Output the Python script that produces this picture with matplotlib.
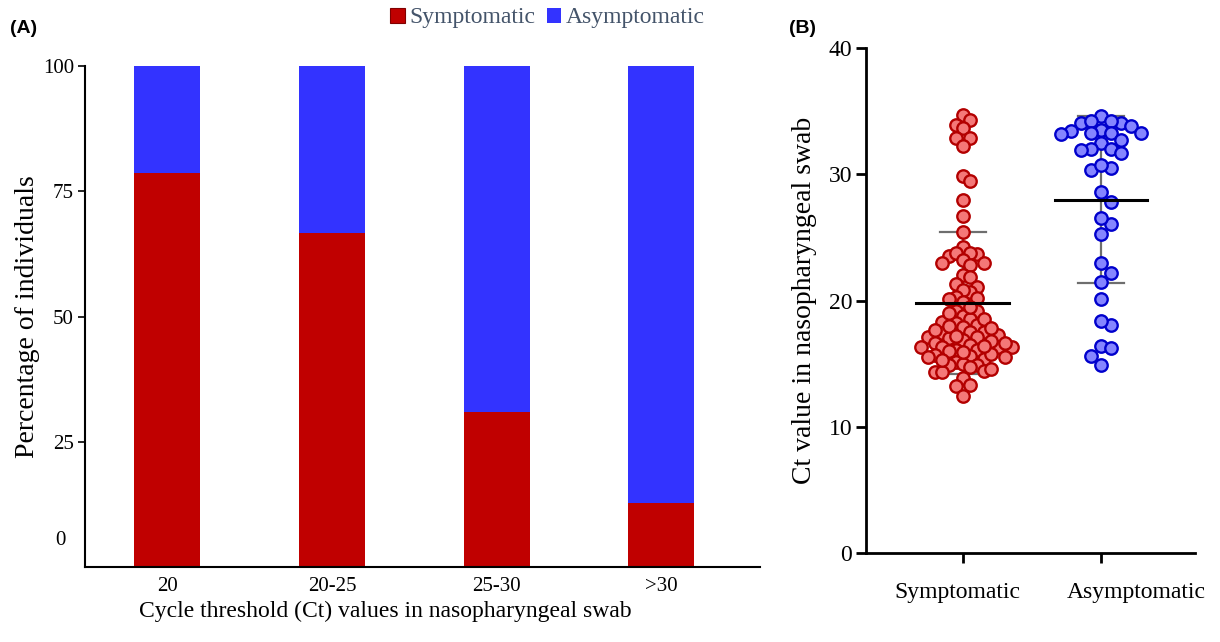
import matplotlib.pyplot as plt
import numpy as np
from matplotlib.patches import Rectangle
from matplotlib.transforms import ScaledTranslation

plt.rcParams['font.family'] = ['Liberation Serif', 'DejaVu Serif']

# --- panel A data ---
CT_BINS = ['20', '20-25', '25-30', '>30']
SYMPT_PCT = [78.6, 66.7, 30.9, 12.8]
ASYMPT_PCT = [100 - v for v in SYMPT_PCT]

# --- panel B data (Ct values) ---
GROUPS = ['Symptomatic', 'Asymptomatic']
SYMPT_CT = [
    34.7, 34.3, 33.9, 33.7, 32.9, 32.9, 32.2,
    29.9, 29.5, 28.0, 26.7, 25.4,
    24.2, 23.5, 23.7, 23.8, 23.8, 23.0, 23.2, 22.8, 23.0, 22.0, 21.9,
    21.3, 21.1, 20.7, 20.8, 20.3, 20.1, 19.9, 20.2, 19.2, 19.2, 18.8,
    18.5, 18.2, 18.1, 17.9, 18.5, 18.3,
    17.5, 17.4, 17.0, 16.9, 17.1, 17.5, 17.3, 17.1, 16.6, 16.3, 16.3,
    16.3, 16.1, 16.5, 16.3, 16.6, 16.1, 15.5, 15.6, 15.7, 15.5, 15.4,
    15.1, 14.9, 14.9, 14.3, 14.3, 14.4, 13.9, 13.3, 13.2, 12.4,
    18.0, 17.8, 17.2, 16.8, 16.0, 15.8, 15.3, 15.0, 14.7, 19.5, 19.0,
    17.7, 16.4, 15.9, 14.6,
]
ASYMPT_CT = [
    34.6, 34.1, 34.1, 34.2, 34.2, 33.8, 33.4, 33.5, 33.3, 33.3, 33.2, 33.3,
    32.7, 32.5, 32.0, 32.0, 31.7, 31.9, 30.3, 30.5, 30.7,
    28.6, 27.8, 26.1, 26.5, 25.3, 23.0, 22.2, 21.5, 20.1,
    18.1, 18.4, 16.4, 16.2, 15.6, 14.9,
]
GROUP_MEAN = [19.8, 28.0]
GROUP_SD = [5.6, 6.6]

RED = '#C00000'
BLUE = '#3333FF'


def swarm_columns(values, gap):
    """Prism-like column layout: a dot goes to the nearest free column."""
    cols = {}
    offs = np.zeros(len(values))
    order = np.argsort(values)[::-1]
    cand = [0]
    for k in range(1, 30):
        cand += [k, -k]
    for i in order:
        v = values[i]
        for k in cand:
            if all(abs(v - y) >= gap for y in cols.get(k, [])):
                cols.setdefault(k, []).append(v)
                offs[i] = k
                break
    return offs


fig = plt.figure(figsize=(12.2, 6.42), dpi=100)

# -- Panel A: stacked bars --
ax = fig.add_axes([0.0697, 0.1168, 0.5533, 0.7802])
x = np.arange(len(CT_BINS))
ax.bar(x, SYMPT_PCT, width=0.4, color=RED, label='Symptomatic')
ax.bar(x, ASYMPT_PCT, width=0.4, bottom=SYMPT_PCT, color=BLUE, label='Asymptomatic')
ax.set_xlim(-0.5, 3.6)
ax.set_ylim(0, 100)
ax.set_yticks([25, 50, 75, 100])
ax.set_yticklabels(['25', '50', '75', '100'], fontsize=15)
ax.text(-0.62, 5.2, '0', fontsize=15, ha='right', va='center')
ax.set_xticks(x)
ax.set_xticklabels(CT_BINS, fontsize=15)
ax.tick_params(axis='x', length=0, pad=7)
ax.tick_params(axis='y', length=5, width=1.2, pad=3)
for s in ['top', 'right']:
    ax.spines[s].set_visible(False)
ax.spines['left'].set_linewidth(1.5)
ax.spines['bottom'].set_linewidth(1.5)
ax.set_ylabel('Percentage of individuals', fontsize=20, labelpad=2)
ax.set_xlabel('Cycle threshold (Ct) values in nasopharyngeal swab', fontsize=17)
ax.xaxis.set_label_coords(0.445, -0.068)

handles = [Rectangle((0, 0), 1, 1, facecolor=RED, edgecolor='#800000', lw=0.8),
           Rectangle((0, 0), 1, 1, facecolor=BLUE, edgecolor='none')]
leg = fig.legend(handles, ['Symptomatic', 'Asymptomatic'], loc='center',
                 bbox_to_anchor=(0.449, 0.972), ncol=2, frameon=False,
                 fontsize=17, handlelength=0.6, handleheight=0.6,
                 handletextpad=0.2, columnspacing=0.5)
for t in leg.get_texts():
    t.set_color('#44546A')

fig.text(0.008, 0.955, '(A)', fontsize=14, fontweight='bold',
         family='Liberation Sans', va='center')
fig.text(0.647, 0.955, '(B)', fontsize=14, fontweight='bold',
         family='Liberation Sans', va='center')

# -- Panel B: scatter dot plot with mean +/- SD --
bx = fig.add_axes([0.7098, 0.1386, 0.2697, 0.7866])
bx.set_xlim(-0.70, 1.68)
bx.set_ylim(0, 40)

styles = [
    (SYMPT_CT, '#F47878', '#B30000', 7 / 138),
    (ASYMPT_CT, '#8585FF', '#0000CC', 10 / 138),
]
for gi, (vals, face, edge, step) in enumerate(styles):
    vals = np.array(vals)
    offs = swarm_columns(vals, gap=0.9)
    m, sd = GROUP_MEAN[gi], GROUP_SD[gi]
    bx.plot([gi, gi], [m - sd, m + sd], color='#6E6E6E', lw=1.6, zorder=1)
    for yv in (m - sd, m + sd):
        bx.plot([gi - 0.165, gi + 0.165], [yv, yv], color='#6E6E6E', lw=1.6, zorder=1)
    bx.scatter(gi + offs * step, vals, s=80, facecolor=face, edgecolor=edge,
               linewidth=1.7, zorder=2)
    bx.plot([gi - 0.335, gi + 0.335], [m, m], color='black', lw=2.2, zorder=3)

bx.set_yticks([0, 10, 20, 30, 40])
bx.set_yticklabels(['0', '10', '20', '30', '40'], fontsize=17)
bx.set_xticks([0, 1])
bx.set_xticklabels(GROUPS, fontsize=17)
bx.tick_params(axis='y', length=7, width=2, pad=3)
bx.tick_params(axis='x', length=7, width=2, pad=14)
# the reference draws the labels slightly off their ticks
shifts = [-5, 35]
for lab, dx in zip(bx.get_xticklabels(), shifts):
    lab.set_transform(lab.get_transform() + ScaledTranslation(dx / 100, 0, fig.dpi_scale_trans))
for s in ['top', 'right']:
    bx.spines[s].set_visible(False)
bx.spines['left'].set_linewidth(2)
bx.spines['bottom'].set_linewidth(2)
bx.set_ylabel('Ct value in nasopharyngeal swab', fontsize=20, labelpad=8)

fig.savefig('out.png', dpi=100)
